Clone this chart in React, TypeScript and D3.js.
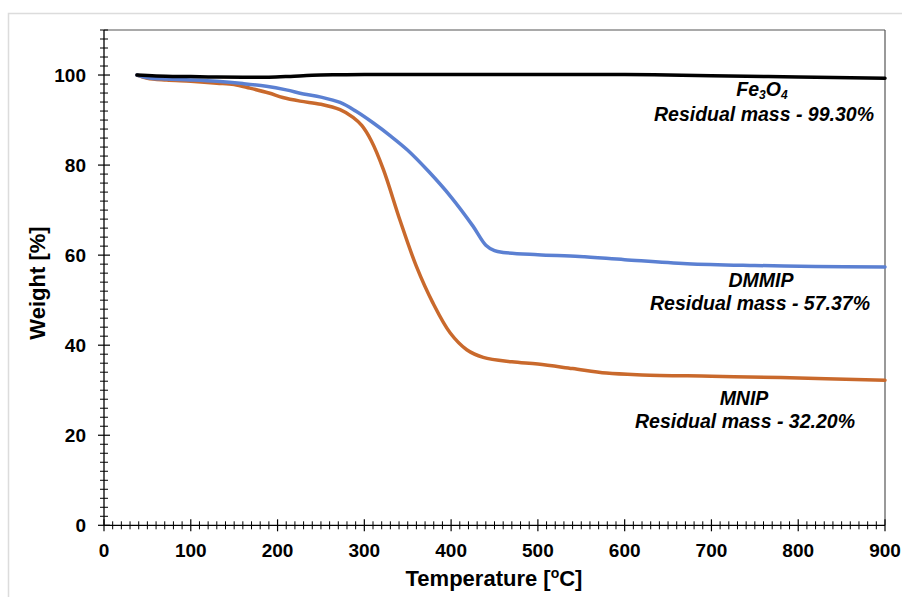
import React from "react";
import * as d3 from "d3";

const fe3o4Temp = [38, 60, 100, 130, 160, 190, 215, 240, 270, 300, 400, 500, 600, 650, 700, 800, 900];
const fe3o4Weight = [100, 99.8, 99.65, 99.55, 99.5, 99.5, 99.7, 99.95, 100.05, 100.1, 100.1, 100.1, 100.1, 100.0, 99.85, 99.55, 99.3];

const dmmipTemp = [38, 50, 72, 100, 130, 160, 187, 210, 230, 250, 272, 290, 310, 330, 350, 375, 400, 425, 440, 450, 460, 500, 548, 600, 672, 750, 820, 900];
const dmmipWeight = [100, 99.4, 99.1, 98.9, 98.6, 98.1, 97.5, 96.7, 95.8, 95.1, 93.9, 92.0, 89.4, 86.5, 83.3, 78.4, 72.9, 66.5, 62.2, 61.0, 60.6, 60.1, 59.7, 59.0, 58.1, 57.7, 57.5, 57.37];

const mnipTemp = [38, 50, 72, 100, 130, 150, 168, 190, 206, 226, 250, 272, 287, 297, 308, 322, 341, 360, 379, 399, 418, 437, 470, 500, 540, 579, 620, 700, 780, 900];
const mnipWeight = [100, 99.3, 98.9, 98.6, 98.2, 97.9, 97.1, 96.0, 95.0, 94.2, 93.5, 92.3, 90.6, 88.8, 85.4, 79.0, 67.8, 57.5, 49.4, 42.7, 39.0, 37.3, 36.3, 35.8, 34.8, 33.8, 33.4, 33.1, 32.8, 32.2];

const xTicks = [0, 100, 200, 300, 400, 500, 600, 700, 800, 900];
const yTicks = [0, 20, 40, 60, 80, 100];

const seriesColors = { fe: "#000000", dmmip: "#5b80d2", mnip: "#c9692c" };

export default function App() {
  const W = 902, H = 597;
  const left = 104, right = 885, top = 30, bottom = 525.3;
  const x = d3.scaleLinear().domain([0, 900]).range([left, right]);
  const y = d3.scaleLinear().domain([0, 110]).range([bottom, top]);
  const line = d3
    .line<[number, number]>()
    .x((d) => x(d[0]))
    .y((d) => y(d[1]))
    .curve(d3.curveCatmullRom.alpha(0.5));
  const zip = (a: number[], b: number[]) => a.map((t, i) => [t, b[i]] as [number, number]);

  const xMinor = d3.range(0, 901, 10).filter((v) => v % 100 !== 0);
  const yMinor = d3.range(0, 111, 2).filter((v) => v % 20 !== 0);
  const font = "Liberation Sans, Arial, Helvetica, sans-serif";

  return (
    <svg width={W} height={H} style={{ position: "absolute", left: 0, top: 0, background: "#fff" }} fontFamily={font}>
      <rect x={8.5} y={13.5} width={1000} height={1000} fill="#fff" stroke="#dcdcdc" strokeWidth={1.5} />
      {/* plot box top/right */}
      <line x1={left} x2={right} y1={top} y2={top} stroke="#555" strokeWidth={1.2} />
      <line x1={right} x2={right} y1={top} y2={bottom} stroke="#555" strokeWidth={1.2} />

      {/* series */}
      <path d={line(zip(mnipTemp, mnipWeight)) || ""} fill="none" stroke={seriesColors.mnip} strokeWidth={3.5} strokeLinecap="round" />
      <path d={line(zip(dmmipTemp, dmmipWeight)) || ""} fill="none" stroke={seriesColors.dmmip} strokeWidth={3.5} strokeLinecap="round" />
      <path d={line(zip(fe3o4Temp, fe3o4Weight)) || ""} fill="none" stroke={seriesColors.fe} strokeWidth={3.5} strokeLinecap="round" />

      {/* axes */}
      <line x1={left} x2={left} y1={top} y2={bottom} stroke="#000" strokeWidth={1.3} />
      <line x1={left} x2={right} y1={bottom} y2={bottom} stroke="#000" strokeWidth={1.3} />
      {yMinor.map((v) => (
        <line key={"ym" + v} x1={left - 4} x2={left + 4} y1={y(v)} y2={y(v)} stroke="#000" strokeWidth={1} />
      ))}
      {yTicks.map((v) => (
        <g key={"y" + v}>
          <line x1={left - 6} x2={left + 6} y1={y(v)} y2={y(v)} stroke="#000" strokeWidth={1.2} />
          <text x={86} y={y(v) + 7} textAnchor="end" fontSize={19} fontWeight="bold">
            {v}
          </text>
        </g>
      ))}
      {xMinor.map((v) => (
        <line key={"xm" + v} x1={x(v)} x2={x(v)} y1={bottom - 4} y2={bottom + 4} stroke="#000" strokeWidth={1} />
      ))}
      {xTicks.map((v) => (
        <g key={"x" + v}>
          <line x1={x(v)} x2={x(v)} y1={bottom - 6} y2={bottom + 6} stroke="#000" strokeWidth={1.2} />
          <text x={x(v)} y={557} textAnchor="middle" fontSize={19} fontWeight="bold">
            {v}
          </text>
        </g>
      ))}

      {/* axis titles */}
      <text x={494} y={586} textAnchor="middle" fontSize={22} fontWeight="bold">
        Temperature [
        <tspan fontSize={14} dy={-8}>o</tspan>
        <tspan dy={8}>C]</tspan>
      </text>
      <text transform={`translate(45,283) rotate(-90)`} textAnchor="middle" fontSize={22} fontWeight="bold">
        Weight [%]
      </text>

      {/* annotations */}
      <g fontStyle="italic" fontWeight="bold" fontSize={19.5} textAnchor="middle">
        <text x={762} y={96}>
          Fe<tspan fontSize={12} dy={3}>3</tspan>
          <tspan dy={-3}>O</tspan>
          <tspan fontSize={12} dy={3}>4</tspan>
        </text>
        <text x={764} y={121}>Residual mass - 99.30%</text>
        <text x={761} y={287}>DMMIP</text>
        <text x={760} y={310}>Residual mass - 57.37%</text>
        <text x={744} y={405}>MNIP</text>
        <text x={745} y={428}>Residual mass - 32.20%</text>
      </g>
    </svg>
  );
}
